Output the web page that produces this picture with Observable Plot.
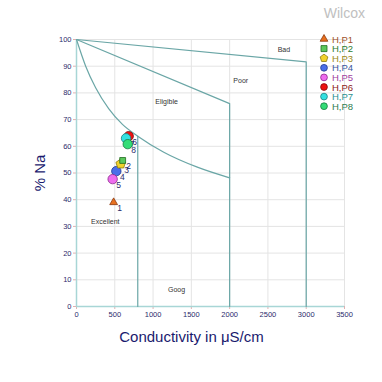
<!DOCTYPE html>
<html><head><meta charset="utf-8">
<script src="https://cdn.jsdelivr.net/npm/d3@7"></script>
<script src="https://cdn.jsdelivr.net/npm/@observablehq/plot@0.6"></script>
<style>
body{margin:0;background:#fff;font-family:"Liberation Sans",Arial,sans-serif;}
#wrap{position:relative;width:382px;height:382px;overflow:hidden;}
#title{position:absolute;right:17px;top:5px;font-size:14px;color:#c0c0c0;}
#legend{position:absolute;left:318px;top:34px;}
</style></head><body>
<div id="wrap"><div id="title">Wilcox</div><div id="legend"></div></div>
<script>
// Series
const names = ["H,P1","H,P2","H,P3","H,P4","H,P5","H,P6","H,P7","H,P8"];
const labels = ["1","2","3","4","5","6","7","8"];
const conductivity = [485, 603, 577, 520, 472, 682, 647, 669];
const naPercent = [39, 54.7, 53.4, 50.7, 47.7, 63.8, 63, 60.8];
const fills = ["#e8701e","#5cc85c","#f2d22a","#4a6ee8","#ee6cee","#ee1111","#33e0e0","#33dd77"];
const strokes = ["#8a3a10","#1e6a1e","#8a7a10","#203a90","#8a2a8a","#801010","#1a8080","#1a7a40"];
const textColors = ["#a0522d","#2e7d32","#9a8a20","#3a55a0","#a040a0","#8b1a1a","#2a9090","#2e7d4f"];
const shapes = ["triangle","square","pentagon","circle","circle","circle","circle","circle"];

// Wilcox boundary lines
const badX = [0, 3000, 3000];
const badY = [100, 91.6, 0];
const poorX = [0, 2000, 2000];
const poorY = [100, 76, 0];
const eligX = [0, 120, 250, 420, 600, 800, 1140, 1578, 2000];
const eligY = [100, 90, 81.9, 74.1, 68.2, 63.8, 57.8, 52.2, 48.2];
const excX = [800, 800];
const excY = [63.8, 0];

// Region labels
const regionNames = ["Bad","Poor","Eligible","Excellent","Goog"];
const regionX = [2709, 2145, 1176, 376, 1306];
const regionY = [96, 84.6, 76.8, 31.8, 6.4];

const xTicks = [0,500,1000,1500,2000,2500,3000,3500];
const yTicks = [0,10,20,30,40,50,60,70,80,90,100];

const pentagon = {draw(ctx, size){
  const r = Math.sqrt(size/2.2);
  for(let i=0;i<5;i++){const a=-Math.PI/2+i*2*Math.PI/5; const x=r*Math.cos(a), y=r*Math.sin(a); if(i===0)ctx.moveTo(x,y); else ctx.lineTo(x,y);}
  ctx.closePath();
}};
const symOf = s => s==="pentagon"?pentagon:s==="triangle"?d3.symbolTriangle:s==="square"?d3.symbolSquare:d3.symbolCircle;
const rOf = s => s==="triangle"?2.9:s==="square"?3.3:s==="pentagon"?4.2:4.7;

const pts = names.map((n,i)=>({name:n,label:labels[i],x:conductivity[i],y:naPercent[i],fill:fills[i],stroke:strokes[i],sym:symOf(shapes[i]),r:rOf(shapes[i])}));
const mk = (xs,ys)=>xs.map((x,i)=>({x,y:ys[i]}));
const regions = regionNames.map((n,i)=>({n,x:regionX[i],y:regionY[i]}));

const navy = "#2b2b6b";
const lineCol = "#6aa6a6";
const chart = Plot.plot({
  width:382, height:382,
  marginLeft:76, marginRight:38, marginTop:39, marginBottom:76,
  style:{fontFamily:"Liberation Sans, Arial, sans-serif", background:"#fff"},
  x:{domain:[0,3500], ticks:xTicks},
  y:{domain:[0,100], ticks:yTicks},
  r:{type:"identity"},
  marks:[
    Plot.gridX(xTicks,{stroke:"#e4e4e4", strokeOpacity:1}),
    Plot.gridY(yTicks,{stroke:"#e4e4e4", strokeOpacity:1}),
    Plot.axisX({ticks:xTicks, tickFormat:d=>String(d), tickSize:3, stroke:"#e0b0b0", fill:navy, fontSize:7.5, tickPadding:2, label:null}),
    Plot.axisY({ticks:yTicks, tickFormat:d=>String(d), tickSize:3, stroke:"#e0b0b0", fill:navy, fontSize:7.5, tickPadding:2, label:null}),
    Plot.ruleX([0],{stroke:"#a8d6d6", strokeWidth:1.5}),
    Plot.ruleY([0],{stroke:"#a8d6d6", strokeWidth:1.5}),
    Plot.line(mk(badX,badY),{x:"x",y:"y",stroke:lineCol,strokeWidth:1.2}),
    Plot.line(mk(poorX,poorY),{x:"x",y:"y",stroke:lineCol,strokeWidth:1.2}),
    Plot.line(mk(eligX,eligY),{x:"x",y:"y",stroke:lineCol,strokeWidth:1.2,curve:"monotone-x"}),
    Plot.line(mk(excX,excY),{x:"x",y:"y",stroke:lineCol,strokeWidth:1.2}),
    Plot.text(regions,{x:"x",y:"y",text:"n",fill:"#333",fontSize:7}),
    Plot.text(pts,{x:"x",y:"y",text:"label",fill:navy,fontSize:8.5,dx:6,dy:6}),
    Plot.dot(pts,{x:"x",y:"y",symbol:"sym",fill:"fill",stroke:"stroke",strokeWidth:0.8,r:"r"}),
    Plot.text(["% Na"],{frameAnchor:"left",dx:-36,rotate:-90,fontSize:15,fill:"#1a1a6e",textAnchor:"middle"}),
    Plot.text(["Conductivity in μS/cm"],{frameAnchor:"bottom",dx:-19,dy:35,fontSize:15,fill:"#1a1a6e"})
  ]
});
const wrap = document.getElementById("wrap");
wrap.insertBefore(chart, wrap.firstChild);

// legend
const lg = d3.select("#legend").append("svg").attr("width",64).attr("height",80);
const rows = lg.selectAll("g").data(pts).join("g").attr("transform",(d,i)=>`translate(6,${5+i*9.6})`);
rows.append("path").attr("d",d=>d3.symbol().type(d.sym).size(d.sym===d3.symbolTriangle?26:36)()).attr("fill",d=>d.fill).attr("stroke",d=>d.stroke).attr("stroke-width",0.8);
rows.append("text").attr("x",8).attr("y",3.5).attr("font-size",9.5).attr("fill",(d,i)=>textColors[i]).text(d=>d.name);
</script></body></html>
